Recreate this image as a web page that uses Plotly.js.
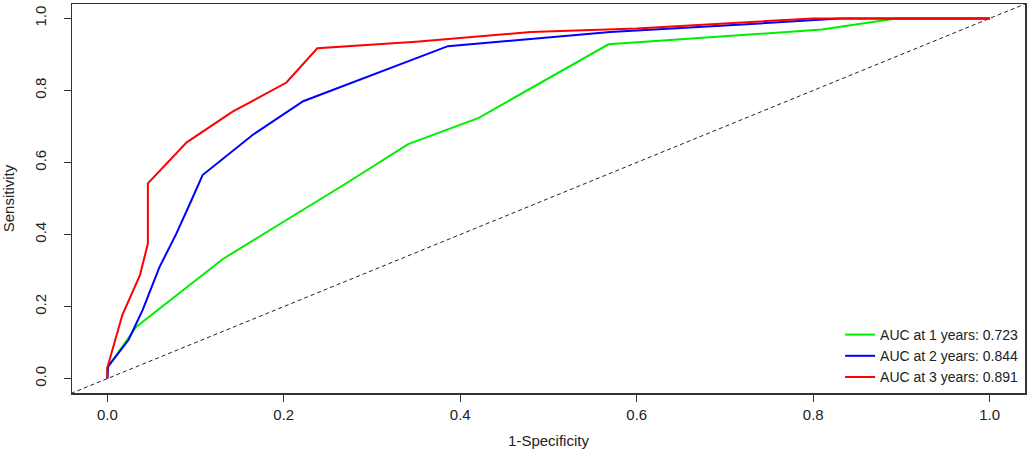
<!DOCTYPE html>
<html>
<head>
<meta charset="utf-8">
<script src="https://cdn.plot.ly/plotly-3.0.1.min.js"></script>
<style>
  html, body { margin: 0; padding: 0; background: #fff; }
  #roc { width: 1029px; height: 469px; }
</style>
</head>
<body>
<div id="roc"></div>
<script>
// ROC points (1-specificity, sensitivity)
var fpr1 = [0, 0, 0.033, 0.131, 0.27, 0.341, 0.421, 0.568, 0.81, 0.894, 1.0];
var tpr1 = [0, 0.03, 0.144, 0.332, 0.541, 0.651, 0.724, 0.928, 0.969, 1.0, 1.0];

var fpr2 = [0, 0.001, 0.024, 0.04, 0.059, 0.078, 0.095, 0.108, 0.165, 0.222, 0.386, 0.57, 0.7, 0.83, 1.0];
var tpr2 = [0, 0.034, 0.107, 0.19, 0.309, 0.401, 0.493, 0.565, 0.677, 0.77, 0.923, 0.962, 0.98, 1.0, 1.0];

var fpr3 = [0, 0, 0.017, 0.037, 0.046, 0.046, 0.09, 0.142, 0.203, 0.238, 0.35, 0.48, 0.6, 0.7, 0.8, 1.0];
var tpr3 = [0, 0.03, 0.176, 0.287, 0.375, 0.542, 0.656, 0.741, 0.822, 0.917, 0.935, 0.962, 0.972, 0.985, 1.0, 1.0];

var labels = ['AUC at 1 years: 0.723', 'AUC at 2 years: 0.844', 'AUC at 3 years: 0.891'];
var colors = ['#00ee00', '#0000ff', '#ff0000'];

// reference diagonal, runs past the plot edges and gets clipped
var diag = [-0.1, 1.1];

var fnt = { family: 'Liberation Sans, Arial, sans-serif', size: 15, color: '#222' };

var traces = [{
    x: diag, y: diag,
    mode: 'lines',
    line: { color: '#222', width: 1, dash: '4px,3px' },
    showlegend: false,
    hoverinfo: 'skip'
}];

var xs = [fpr1, fpr2, fpr3];
var ys = [tpr1, tpr2, tpr3];
for (var i = 0; i < 3; i++) {
    traces.push({
        x: xs[i], y: ys[i],
        mode: 'lines',
        name: labels[i],
        line: { color: colors[i], width: 2 }
    });
}

var axisBase = {
    range: [-0.04, 1.04],
    tickvals: [0, 0.2, 0.4, 0.6, 0.8, 1.0],
    ticktext: ['0.0', '0.2', '0.4', '0.6', '0.8', '1.0'],
    showgrid: false,
    zeroline: false,
    showline: true,
    mirror: true,
    linecolor: '#333',
    linewidth: 1.5,
    ticks: 'outside',
    ticklen: 7,
    tickcolor: '#333',
    tickfont: fnt
};

var layout = {
    width: 1029,
    height: 469,
    margin: { l: 72, r: 4, t: 4, b: 76 },
    paper_bgcolor: '#fff',
    plot_bgcolor: '#fff',
    font: fnt,
    xaxis: Object.assign({}, axisBase, {
        title: { text: '1-Specificity', font: fnt, standoff: 14 }
    }),
    yaxis: Object.assign({}, axisBase, {
        tickangle: -90,
        ticklabelstandoff: 12,
        title: { text: 'Sensitivity', font: fnt, standoff: 13 }
    }),
    legend: {
        x: 0.998, y: 0.0,
        xanchor: 'right', yanchor: 'bottom',
        bgcolor: 'rgba(0,0,0,0)',
        borderwidth: 0,
        font: Object.assign({}, fnt, { size: 14 }),
        tracegroupgap: 0
    },
    showlegend: true
};

Plotly.newPlot('roc', traces, layout, { staticPlot: true });
</script>
</body>
</html>
